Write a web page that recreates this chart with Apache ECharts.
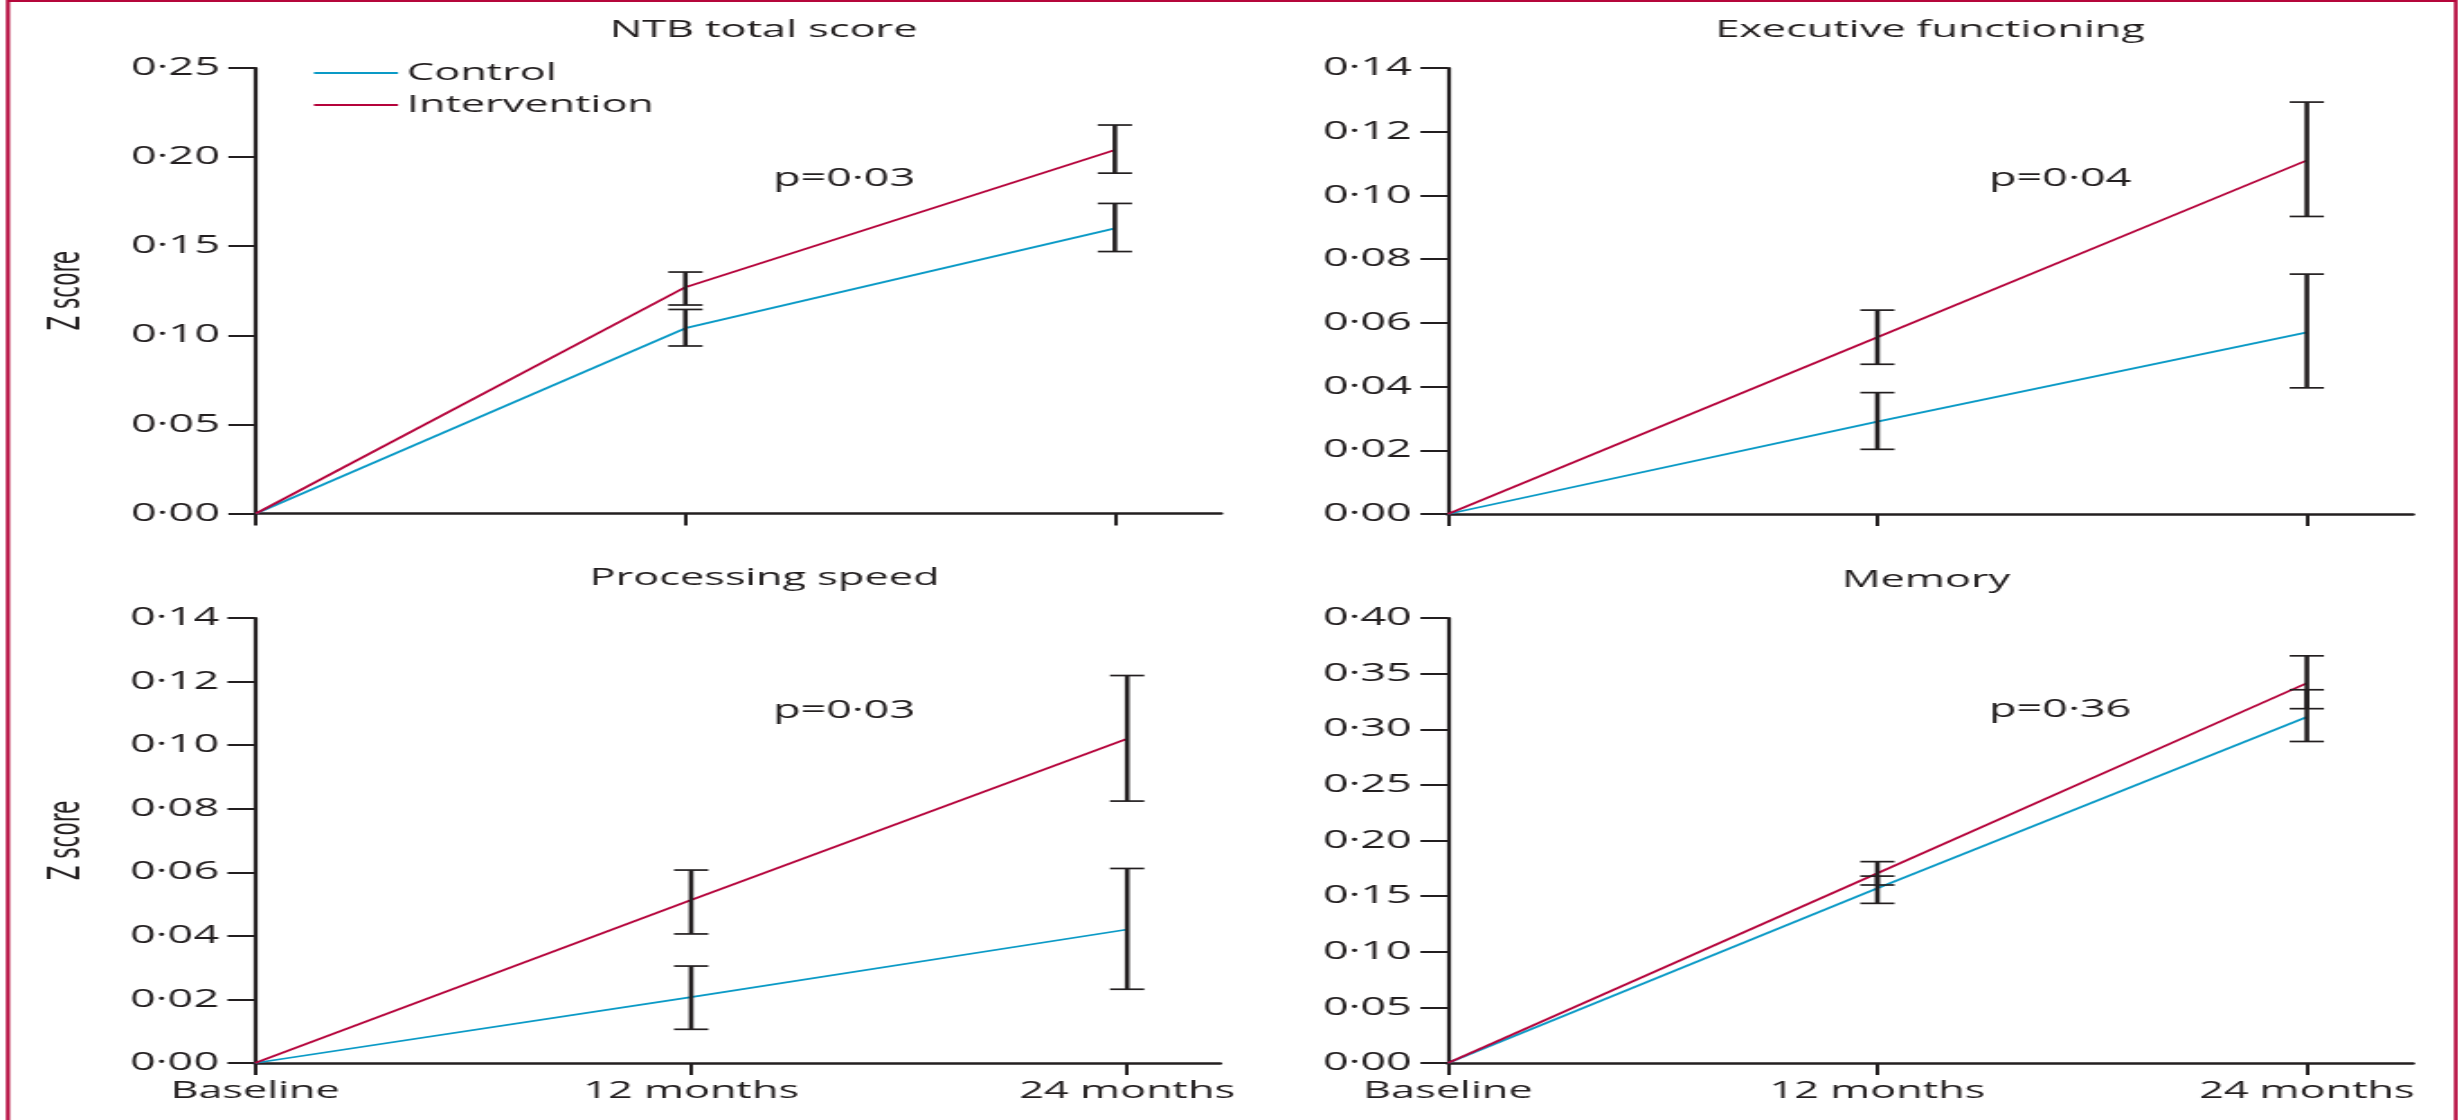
<!DOCTYPE html>
<html>
<head>
<meta charset="utf-8">
<script src="https://cdn.jsdelivr.net/npm/echarts@6/dist/echarts.min.js"></script>
<style>
  html, body { margin: 0; padding: 0; background: #fff; overflow: hidden; }
  #wrap { width: 2458px; height: 1120px; overflow: hidden; }
  /* the figure is laid out narrow and widened horizontally, like the printed figure */
  #chart { width: 1366px; height: 1120px; transform: scaleX(1.8); transform-origin: 0 0; }
</style>
</head>
<body>
<div id="wrap"><div id="chart"></div></div>
<script>
// ---- data -------------------------------------------------------------
const timepoints = ['Baseline', '12 months', '24 months'];
const panelTitles = ['NTB total score', 'Executive functioning', 'Processing speed', 'Memory'];
const pValues = ['p=0·03', 'p=0·04', 'p=0·03', 'p=0·36'];

// mean change in Z score at baseline, 12 and 24 months
const ntbControl = [0, 0.104, 0.160];
const ntbIntervention = [0, 0.127, 0.204];
const execControl = [0, 0.029, 0.057];
const execIntervention = [0, 0.0555, 0.111];
const speedControl = [0, 0.0207, 0.042];
const speedIntervention = [0, 0.0513, 0.102];
const memoryControl = [0, 0.157, 0.311];
const memoryIntervention = [0, 0.1705, 0.3415];

// error bar bounds [low, high] at 12 and 24 months
const ntbControlCI = [[0.094, 0.1145], [0.147, 0.174]];
const ntbInterventionCI = [[0.117, 0.1355], [0.191, 0.218]];
const execControlCI = [[0.0203, 0.0381], [0.0396, 0.0753]];
const execInterventionCI = [[0.047, 0.064], [0.0934, 0.1293]];
const speedControlCI = [[0.0106, 0.0305], [0.0232, 0.0612]];
const speedInterventionCI = [[0.0406, 0.0607], [0.0824, 0.1219]];
const memoryControlCI = [[0.1435, 0.168], [0.289, 0.3355]];
const memoryInterventionCI = [[0.160, 0.181], [0.3185, 0.366]];

// y axis ranges per panel
const yMax = [0.25, 0.14, 0.14, 0.40];
const yStep = [0.05, 0.02, 0.02, 0.05];

// ---- styling ------------------------------------------------------------
const INK = '#231f20';
const CONTROL = '#0a9ac6';
const INTERVENTION = '#b5033b';
const FONT = "'Open Sans', 'Noto Sans', sans-serif";
const NARROW = "'Liberation Sans Narrow', 'DejaVu Sans Condensed', 'Open Sans', sans-serif";

const panels = [
  { control: ntbControl, intervention: ntbIntervention, cCI: ntbControlCI, iCI: ntbInterventionCI },
  { control: execControl, intervention: execIntervention, cCI: execControlCI, iCI: execInterventionCI },
  { control: speedControl, intervention: speedIntervention, cCI: speedControlCI, iCI: speedInterventionCI },
  { control: memoryControl, intervention: memoryIntervention, cCI: memoryControlCI, iCI: memoryInterventionCI }
];

const grids = [
  { left: 142.2, top: 68, width: 536.1, height: 445.5 },
  { left: 804.4, top: 68, width: 536.1, height: 446 },
  { left: 141.7, top: 618, width: 536.1, height: 445 },
  { left: 804.4, top: 618, width: 536.1, height: 445 }
];
const xMax = [2.247, 2.247, 2.213, 2.247];

const titlePos = [[424.2, 30.5], [1072.2, 30.5], [424.7, 578.5], [1070, 580]];
const pPos = [[429.4, 178.5], [1105, 178.5], [429.4, 711], [1105, 710]];

const fmtY = v => v.toFixed(2).replace('.', '·');

function renderErrorBar(params, api) {
  const x = api.value(0);
  const lo = api.coord([x, api.value(1)]);
  const hi = api.coord([x, api.value(2)]);
  const half = 9.5;
  const stem = { stroke: INK, lineWidth: 2.6 };
  const cap = { stroke: INK, lineWidth: 1.7 };
  return {
    type: 'group',
    children: [
      { type: 'line', shape: { x1: lo[0], y1: lo[1], x2: hi[0], y2: hi[1] }, style: stem },
      { type: 'line', shape: { x1: lo[0] - half, y1: lo[1], x2: lo[0] + half, y2: lo[1] }, style: cap },
      { type: 'line', shape: { x1: hi[0] - half, y1: hi[1], x2: hi[0] + half, y2: hi[1] }, style: cap }
    ]
  };
}

const xAxes = [], yAxes = [], series = [], graphics = [];

panels.forEach((p, i) => {
  const bottomRow = i >= 2;
  const leftCol = i % 2 === 0;
  xAxes.push({
    type: 'value', gridIndex: i, min: 0, max: xMax[i],
    axisLine: { show: true, lineStyle: { color: INK, width: 2.5 } },
    axisTick: { show: true, customValues: [0, 1, 2], length: 12, lineStyle: { color: INK, width: 2 } },
    axisLabel: {
      show: bottomRow, customValues: [0, 1, 2], margin: 16,
      formatter: v => timepoints[Math.round(v)] || '',
      fontSize: 24, fontFamily: FONT, color: INK
    },
    splitLine: { show: false }
  });
  yAxes.push({
    type: 'value', gridIndex: i, min: 0, max: yMax[i], interval: yStep[i],
    name: leftCol ? 'Z score' : '', nameLocation: 'middle', nameRotate: 90, nameGap: 92,
    nameTextStyle: { fontSize: 24, fontFamily: NARROW, color: INK },
    axisLine: { show: true, lineStyle: { color: INK, width: 2.2 } },
    axisTick: { show: true, length: 15.3, lineStyle: { color: INK, width: 2 } },
    axisLabel: { margin: 20, formatter: fmtY, fontSize: 25, fontFamily: FONT, color: INK },
    splitLine: { show: false }
  });
  const toPts = arr => arr.map((v, k) => [k, v]);
  const toBars = ci => ci.map((b, k) => [k + 1, b[0], b[1]]);
  series.push({
    name: 'Control', type: 'line', xAxisIndex: i, yAxisIndex: i, data: toPts(p.control),
    symbol: 'none', lineStyle: { color: CONTROL, width: 1.8 }, itemStyle: { color: CONTROL }, z: 2
  });
  series.push({
    name: 'Intervention', type: 'line', xAxisIndex: i, yAxisIndex: i, data: toPts(p.intervention),
    symbol: 'none', lineStyle: { color: INTERVENTION, width: 1.8 }, itemStyle: { color: INTERVENTION }, z: 3
  });
  [p.cCI, p.iCI].forEach(ci => {
    series.push({
      type: 'custom', xAxisIndex: i, yAxisIndex: i, data: toBars(ci),
      encode: { x: 0, y: [1, 2] }, renderItem: renderErrorBar, z: 4, silent: true
    });
  });
  graphics.push({
    type: 'text', x: titlePos[i][0], y: titlePos[i][1],
    style: { text: panelTitles[i], fontSize: 24, fontFamily: FONT, fill: INK, align: 'center', verticalAlign: 'middle' }
  });
  graphics.push({
    type: 'text', x: pPos[i][0], y: pPos[i][1],
    style: { text: pValues[i], fontSize: 25, fontFamily: FONT, fill: INK, align: 'left', verticalAlign: 'middle' }
  });
});

// red frame round the figure
graphics.push({
  type: 'rect', shape: { x: 4.4, y: 1, width: 1360, height: 1200 },
  style: { fill: 'none', stroke: '#b5073b', lineWidth: 2.2 }, silent: true
});

const chart = echarts.init(document.getElementById('chart'));
chart.setOption({
  animation: false,
  backgroundColor: '#fff',
  grid: grids,
  xAxis: xAxes,
  yAxis: yAxes,
  legend: {
    data: ['Control', 'Intervention'], orient: 'vertical', left: 169.4, top: 56,
    icon: 'rect', itemWidth: 46.7, itemHeight: 2.2, itemGap: 8, selectedMode: false,
    textStyle: { fontSize: 24, lineHeight: 24, fontFamily: FONT, color: INK }
  },
  graphic: graphics,
  series: series
});
</script>
</body>
</html>
